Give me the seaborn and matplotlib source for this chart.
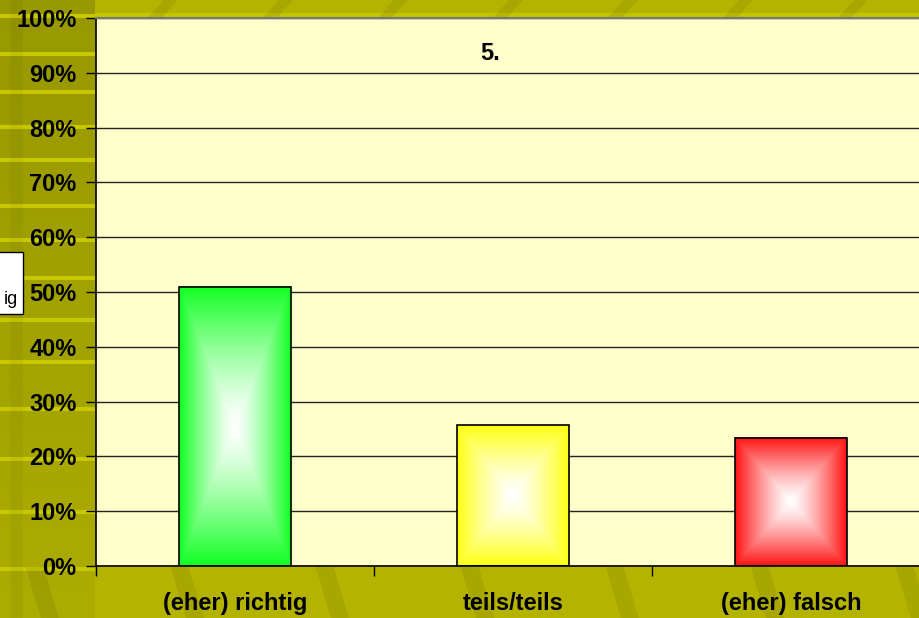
import numpy as np
import pandas as pd
import matplotlib.pyplot as plt
import matplotlib.patches as mpatches
from matplotlib.colors import to_rgb
import seaborn as sns

# Daten aus dem Diagramm
kategorien = ["(eher) richtig", "teils/teils", "(eher) falsch"]
anteile = [51.0, 25.7, 23.4]
farben = ["#11ff22", "#ffff11", "#ff1111"]
y_ticks = list(range(0, 101, 10))
y_labels = [f"{t}%" for t in y_ticks]
titel = "5."

sns.set_theme(style="white")
plt.rcParams["font.family"] = ["Liberation Sans", "DejaVu Sans"]
plt.rcParams["text.color"] = "black"
plt.rcParams["xtick.color"] = "black"
plt.rcParams["ytick.color"] = "black"

df = pd.DataFrame({"Kategorie": kategorien, "Anteil": anteile})

W, H = 920, 618
fig = plt.figure(figsize=(9.2, 6.18), dpi=100)
fig.patch.set_facecolor("#b4b400")

# Folien-Hintergrund (nur Dekor)
yy, xx = np.mgrid[0:H, 0:W]
bg = np.ones((H, W, 3)) * np.array(to_rgb("#b4b400"))
links = xx < 95
dunkel = np.array(to_rgb("#989800"))
hell = np.array(to_rgb("#acac00"))
f = (yy / H)[..., None]
bg = np.where(links[..., None], dunkel * (1 - f) + hell * f, bg)
for sy in [14, 52, 90, 125, 158, 204, 238, 276, 318, 360, 407, 457, 510, 567]:
    streifen = links & (yy >= sy) & (yy < sy + 4)
    bg[streifen] = to_rgb("#c8c800")
senkrecht = (xx >= 10) & (xx < 23)
bg[senkrecht] = bg[senkrecht] * 0.96
oben = (yy >= 13) & (yy < 18) & ~links
bg[oben] = to_rgb("#c4c400")
diag_unten = (yy > 566) & (((xx - 0.3 * (yy - 566) - 170) % 145) < 18)
bg[diag_unten] = bg[diag_unten] * 0.93
diag_oben = (yy < 18) & ~links & (((xx + 0.9 * yy - 623) % 115) < 14)
bg[diag_oben] = bg[diag_oben] * 0.93

ax_bg = fig.add_axes([0, 0, 1, 1], zorder=-1)
ax_bg.imshow(bg, aspect="auto", interpolation="nearest")
ax_bg.axis("off")

ax = fig.add_axes([96 / W, 52 / H, 834 / W, 548 / H], zorder=1)
ax.set_facecolor("#ffffcc")

sns.barplot(data=df, x="Kategorie", y="Anteil", hue="Kategorie", palette=farben,
            width=0.4, saturation=1, edgecolor="black", linewidth=1.2,
            legend=False, ax=ax)

# Verlauf von der Mitte (weiss) zum Rand (Farbe)
n = 300
u = np.linspace(-1, 1, n)
U, V = np.meshgrid(u, u)
t = np.maximum(np.abs(U), np.abs(V)) ** 1.3
for patch, farbe in zip(ax.patches, farben):
    x0, y0 = patch.get_x(), patch.get_y()
    w, h = patch.get_width(), patch.get_height()
    c = np.array(to_rgb(farbe))
    img = (1 - t[..., None]) * np.ones(3) + t[..., None] * c
    ax.imshow(img, extent=(x0, x0 + w, y0, y0 + h), aspect="auto", zorder=2.5,
              interpolation="bilinear")
    patch.set_facecolor("none")
    patch.set_zorder(3)

ax.set_xlim(-0.5, 2.5)
ax.set_ylim(0, 100)
ax.set_yticks(y_ticks)
ax.set_yticklabels(y_labels, fontsize=17, fontweight="bold")
ax.yaxis.grid(True, color="#222222", linewidth=1)
ax.set_axisbelow(True)

ax.set_xticks([-0.5, 0.5, 1.5, 2.5])
ax.set_xticklabels([])
ax.set_xticks([0, 1, 2], minor=True)
ax.set_xticklabels(kategorien, minor=True, fontsize=17, fontweight="bold")
ax.tick_params(axis="x", which="minor", length=0, pad=19)
ax.tick_params(axis="x", which="major", direction="out", length=7, width=1, color="black", bottom=True)
ax.tick_params(axis="y", direction="out", length=7, width=1, color="black", left=True, pad=7)
ax.set_xlabel("")
ax.set_ylabel("")

ax.spines["right"].set_visible(False)
ax.spines["top"].set_color("#777777")
ax.spines["top"].set_linewidth(1.5)
for side in ["left", "bottom"]:
    ax.spines[side].set_color("black")
    ax.spines[side].set_linewidth(1.2)

fig.text(490 / W, 1 - 53 / H, titel, ha="center", va="center", fontsize=17, fontweight="bold")

# Rest der abgeschnittenen Legende am linken Rand
fig.patches.append(mpatches.Rectangle((-0.01, 1 - 314 / H), 23 / W + 0.01, 62 / H,
                                      transform=fig.transFigure, facecolor="white",
                                      edgecolor="black", linewidth=1, zorder=5))
fig.text(18 / W, 1 - 300 / H, "ig", ha="right", va="center", fontsize=13, zorder=6)

fig.savefig("out.png", dpi=100, facecolor=fig.get_facecolor())
